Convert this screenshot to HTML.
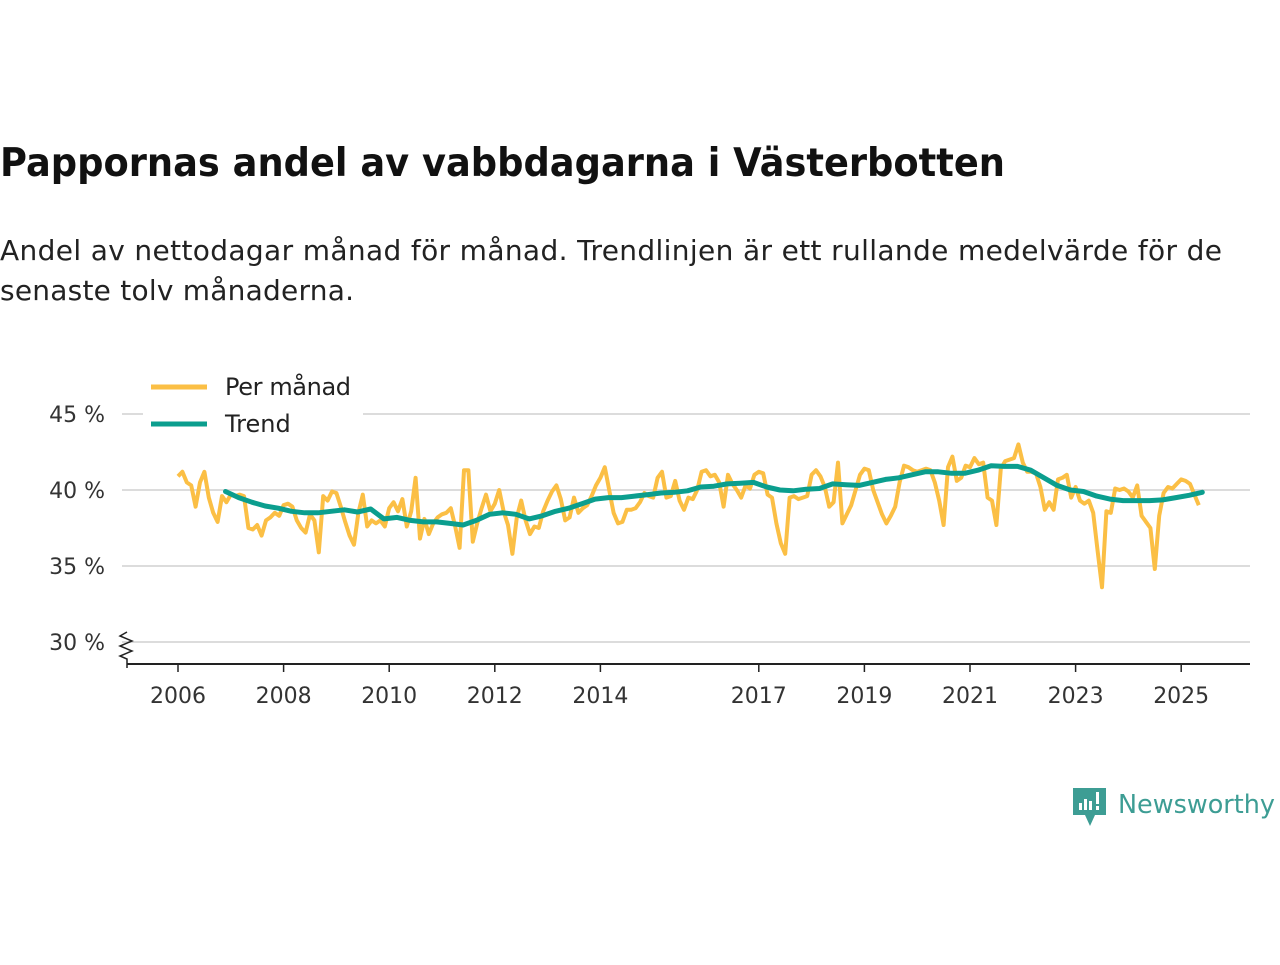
<!DOCTYPE html>
<html><head><meta charset="utf-8"><style>
body{margin:0;background:#fff;width:1280px;height:960px;overflow:hidden;font-family:"Liberation Sans","DejaVu Sans",sans-serif}
</style></head><body>
<svg width="1280" height="960" xmlns="http://www.w3.org/2000/svg">
<text x="0" y="176" font-size="39" font-weight="bold" fill="#111" font-family="DejaVu Sans, sans-serif" textLength="1005" lengthAdjust="spacingAndGlyphs">Pappornas andel av vabbdagarna i Västerbotten</text>
<text x="0" y="260" font-size="28" fill="#222" font-family="DejaVu Sans, sans-serif" textLength="1222">Andel av nettodagar månad för månad. Trendlinjen är ett rullande medelvärde för de</text>
<text x="0" y="300" font-size="28" fill="#222" font-family="DejaVu Sans, sans-serif" textLength="354">senaste tolv månaderna.</text>
<g id="grid"></g>
<g id="yaxis"></g>
<g id="xaxis"></g>
<g id="series"></g>
<g>
<rect x="143" y="368" width="220" height="76" fill="#fff"/>
<line x1="151" y1="387" x2="207" y2="387" stroke="#fbbf45" stroke-width="5"/>
<text x="225" y="395" font-size="24" fill="#222" font-family="DejaVu Sans, sans-serif" textLength="126">Per månad</text>
<line x1="151" y1="424" x2="207" y2="424" stroke="#0b9e8e" stroke-width="5"/>
<text x="225" y="432" font-size="24" fill="#222" font-family="DejaVu Sans, sans-serif">Trend</text>
</g>
<g>
<path d="M1073 788 h33 v27 h-11 l-5 11 l-5 -11 h-12 z" fill="#3d9d94"/>
<rect x="1079" y="803" width="3" height="7" fill="#fff"/><rect x="1084" y="799" width="3" height="11" fill="#fff"/><rect x="1089" y="801" width="3" height="9" fill="#fff"/><rect x="1096" y="792" width="3" height="12" fill="#fff"/><rect x="1096" y="806" width="3" height="4" fill="#fff"/>
<text x="1118" y="813" font-size="26" fill="#3d9d94" font-family="DejaVu Sans, sans-serif" textLength="157" lengthAdjust="spacingAndGlyphs">Newsworthy</text>
</g>
</svg>
<script>
const yTicks=[30,35,40,45];
const xTicks=[2006,2008,2010,2012,2014,2017,2019,2021,2023,2025];
const monthlyStart=2006;
const monthly=[
40.9,41.2,40.5,40.3,38.9,40.5,41.2,39.5,38.5,37.9,39.6,39.2,
39.7,39.6,39.7,39.6,37.5,37.4,37.7,37.0,38.0,38.2,38.5,38.3,
39.0,39.1,38.9,38.0,37.5,37.2,38.4,38.0,35.9,39.6,39.3,39.9,
39.8,38.9,37.9,37.0,36.4,38.5,39.7,37.6,38.0,37.8,38.0,37.6,
38.8,39.2,38.6,39.4,37.6,38.6,40.8,36.8,38.1,37.1,37.8,38.2,
38.4,38.5,38.8,37.6,36.2,41.3,41.3,36.6,37.8,38.8,39.7,38.6,
39.1,40.0,38.6,37.7,35.8,38.2,39.3,38.0,37.1,37.6,37.5,38.6,
39.3,39.9,40.3,39.4,38.0,38.2,39.5,38.5,38.8,39.0,39.6,40.3,
40.8,41.5,40.0,38.5,37.8,37.9,38.7,38.7,38.8,39.2,39.8,39.6,
39.5,40.8,41.2,39.5,39.6,40.6,39.3,38.7,39.5,39.4,40.0,41.2,
41.3,40.9,41.0,40.5,38.9,41.0,40.4,40.0,39.5,40.3,40.1,41.0,
41.2,41.1,39.7,39.5,37.8,36.5,35.8,39.5,39.6,39.4,39.5,39.6,
41.0,41.3,40.9,40.2,38.9,39.2,41.8,37.8,38.4,39.0,40.0,41.0,
41.4,41.3,40.0,39.2,38.4,37.8,38.3,38.9,40.5,41.6,41.5,41.3,
41.2,41.3,41.4,41.3,40.5,39.3,37.7,41.5,42.2,40.6,40.8,41.6,
41.5,42.1,41.7,41.8,39.5,39.3,37.7,41.4,41.9,42.0,42.1,43.0,
41.8,41.2,41.2,41.1,40.2,38.7,39.2,38.7,40.7,40.8,41.0,39.5,
40.2,39.3,39.1,39.3,38.5,36.0,33.6,38.6,38.5,40.1,40.0,40.1,
39.9,39.5,40.3,38.3,37.9,37.5,34.8,38.3,39.8,40.2,40.1,40.4,
40.7,40.6,40.4,39.7,39.0];
const trendStart=2006.9;
const trend=[
39.9,39.5,39.2,38.95, 38.8,38.6,38.5,38.5, 38.6,38.7,38.55,38.75,
38.1,38.2,38.0,37.9, 37.9,37.8,37.7,38.0, 38.4,38.5,38.4,38.1,
38.3,38.6,38.8,39.1, 39.4,39.5,39.5,39.6, 39.7,39.8,39.85,39.95,
40.2,40.25,40.4,40.45, 40.5,40.2,40.0,39.95, 40.05,40.1,40.4,40.35,
40.3,40.5,40.7,40.8, 41.0,41.2,41.2,41.1, 41.1,41.3,41.6,41.55,
41.55,41.3,40.8,40.3, 40.0,39.9,39.6,39.4, 39.3,39.3,39.3,39.35,
39.5,39.65,39.85];
const ns="http://www.w3.org/2000/svg";
const X=t=>178+(t-2006)*52.8;
const Y=v=>490-(v-40)*15.2;
function mk(tag,attrs,parent){const e=document.createElementNS(ns,tag);for(const k in attrs)e.setAttribute(k,attrs[k]);document.getElementById(parent).appendChild(e);return e;}
yTicks.forEach(v=>{
 const l=mk('line',{x1:122,x2:1250,y1:Y(v),y2:Y(v),stroke:'#dcdcdc','stroke-width':2},'grid');
 
 
 const t=mk('text',{x:105,y:Y(v)+8,'text-anchor':'end','font-size':22,fill:'#333','font-family':'DejaVu Sans, sans-serif'},'yaxis');
 t.textContent=v+' %';
 
 
});
const br=mk('path',{d:'M127 632 l-7 4 l12 5 l-12 5 l12 5 l-12 5 l7 3 v9',fill:'none',stroke:'#222','stroke-width':1.5},'yaxis');


const ax=mk('line',{x1:127,x2:1250,y1:664,y2:664,stroke:'#222','stroke-width':2},'xaxis');


xTicks.forEach(yr=>{
 const tk=mk('line',{x1:X(yr),x2:X(yr),y1:664,y2:672,stroke:'#222','stroke-width':1.5},'xaxis');
 
 
 const t=mk('text',{x:X(yr),y:703,'text-anchor':'middle','font-size':22,fill:'#333','font-family':'DejaVu Sans, sans-serif'},'xaxis');
 t.textContent=yr;
 
 
});
const mp=monthly.map((v,i)=>X(monthlyStart+i/12).toFixed(1)+','+Y(v).toFixed(1)).join(' ');
const m=mk('polyline',{points:mp,fill:'none',stroke:'#fbbf45','stroke-width':4,'stroke-linejoin':'round'},'series');


const tp=trend.map((v,i)=>X(trendStart+i/4).toFixed(1)+','+Y(v).toFixed(1)).join(' ');
const tr=mk('polyline',{points:tp,fill:'none',stroke:'#0b9e8e','stroke-width':5,'stroke-linejoin':'round','stroke-linecap':'round'},'series');


</script>
</body></html>
